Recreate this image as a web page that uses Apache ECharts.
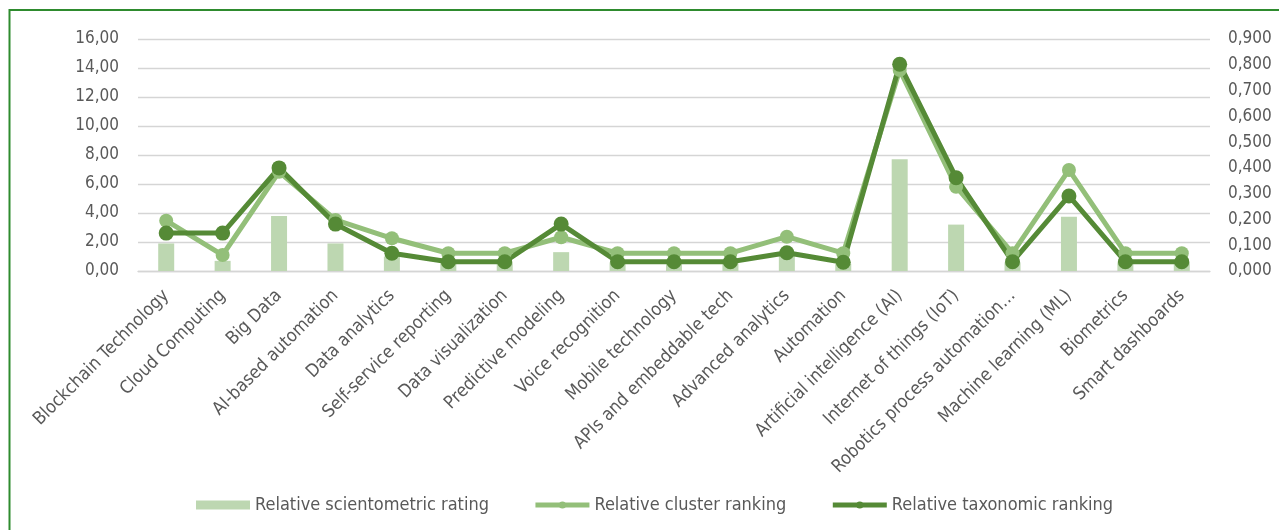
<!DOCTYPE html>
<html>
<head>
<meta charset="utf-8">
<script src="https://cdn.jsdelivr.net/npm/echarts@6/dist/echarts.min.js"></script>
<style>
  html, body { margin: 0; padding: 0; background: #fff; }
  #chart { width: 1279px; height: 530px; }
</style>
</head>
<body>
<div id="chart"></div>
<script>
const categories = [
  'Blockchain Technology', 'Cloud Computing', 'Big Data', 'AI-based automation',
  'Data analytics', 'Self-service reporting', 'Data visualization', 'Predictive modeling',
  'Voice recognition', 'Mobile technology', 'APIs and embeddable tech', 'Advanced analytics',
  'Automation', 'Artificial intelligence (AI)', 'Internet of things (IoT)',
  'Robotics process automation…', 'Machine learning (ML)', 'Biometrics', 'Smart dashboards'
];
// left axis
const scientometric = [1.9, 0.7, 3.8, 1.9, 1.0, 0.6, 0.6, 1.3, 0.6, 0.6, 0.6, 1.3, 0.5, 7.7, 3.2, 0.6, 3.75, 0.6, 0.6];
// right axis
const cluster = [0.195, 0.062, 0.385, 0.198, 0.127, 0.069, 0.069, 0.131, 0.069, 0.069, 0.069, 0.133, 0.069, 0.78, 0.327, 0.069, 0.392, 0.069, 0.069];
const taxonomic = [0.147, 0.147, 0.400, 0.182, 0.069, 0.036, 0.036, 0.182, 0.036, 0.036, 0.036, 0.071, 0.034, 0.802, 0.362, 0.036, 0.291, 0.036, 0.036];

const FONT = '"DejaVu Sans Condensed", "DejaVu Sans", sans-serif';
const TXT = '#595959';
const C_BAR = '#BDD7B1', C_LIGHT = '#93BF79', C_DARK = '#558A36';

const chart = echarts.init(document.getElementById('chart'));
chart.setOption({
  animation: false,
  textStyle: { fontFamily: FONT },
  graphic: [{
    type: 'rect',
    shape: { x: 9.5, y: 10, width: 1400, height: 700 },
    style: { fill: 'none', stroke: '#2E8B2E', lineWidth: 2 },
    silent: true
  }],
  grid: { left: 138, right: 69, top: 39, bottom: 259 },
  legend: {
    left: 191,
    top: 491,
    itemWidth: 54,
    itemHeight: 9,
    itemGap: 44,
    textStyle: { color: TXT, fontSize: 18, fontFamily: FONT },
    lineStyle: { width: 5 },
    data: [
      { name: 'Relative scientometric rating', icon: 'rect' },
      { name: 'Relative cluster ranking' },
      { name: 'Relative taxonomic ranking' }
    ]
  },
  xAxis: {
    type: 'category',
    data: categories,
    axisTick: { show: false },
    axisLine: { show: true, lineStyle: { color: '#D5D5D5', width: 1.3 } },
    axisLabel: { rotate: 45, margin: 22, color: TXT, fontSize: 18, fontFamily: FONT, interval: 0 }
  },
  yAxis: [{
    type: 'value',
    min: 0, max: 16, interval: 2,
    axisLine: { show: false },
    axisTick: { show: false },
    splitLine: { lineStyle: { color: '#D5D5D5', width: 1.3 } },
    axisLabel: {
      margin: 19, color: TXT, fontSize: 17, fontFamily: FONT,
      formatter: v => v.toFixed(2).replace('.', ',')
    }
  }, {
    type: 'value',
    min: 0, max: 0.9, interval: 0.1,
    axisLine: { show: false },
    axisTick: { show: false },
    splitLine: { show: false },
    axisLabel: {
      margin: 18, color: TXT, fontSize: 17, fontFamily: FONT,
      formatter: v => v.toFixed(3).replace('.', ',')
    }
  }],
  series: [{
    name: 'Relative scientometric rating',
    type: 'bar',
    yAxisIndex: 0,
    barWidth: 16,
    itemStyle: { color: C_BAR },
    data: scientometric
  }, {
    name: 'Relative cluster ranking',
    type: 'line',
    yAxisIndex: 1,
    symbol: 'circle',
    symbolSize: 14,
    lineStyle: { color: C_LIGHT, width: 5 },
    itemStyle: { color: C_LIGHT },
    data: cluster
  }, {
    name: 'Relative taxonomic ranking',
    type: 'line',
    yAxisIndex: 1,
    symbol: 'circle',
    symbolSize: 15,
    lineStyle: { color: C_DARK, width: 5 },
    itemStyle: { color: C_DARK },
    data: taxonomic
  }]
});
</script>
</body>
</html>
